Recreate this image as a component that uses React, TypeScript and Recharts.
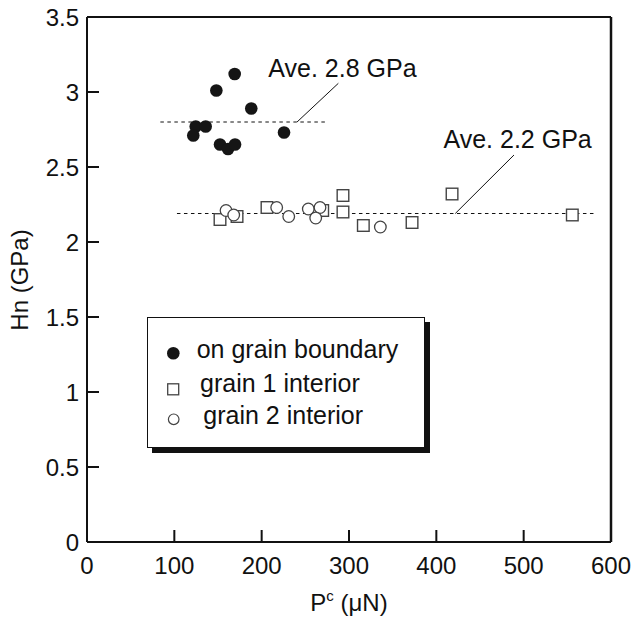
import React from 'react';
import { ScatterChart, Scatter, XAxis, YAxis, ReferenceLine, ReferenceDot } from 'recharts';

// Data (P^c in µN, Hn in GPa)
const boundaryX = [169.1, 148.1, 188.1, 124.5, 135.9, 121.7, 152.3, 161.5, 169.5, 225.6];
const boundaryY = [3.12, 3.01, 2.89, 2.77, 2.77, 2.71, 2.65, 2.62, 2.65, 2.73];
const grain1X = [152.3, 171.8, 206.1, 269.9, 293.1, 293.1, 316.4, 372.2, 418.0, 555.7];
const grain1Y = [2.15, 2.17, 2.23, 2.21, 2.31, 2.20, 2.11, 2.13, 2.32, 2.18];
const grain2X = [159.2, 168.0, 217.2, 231.0, 253.4, 266.8, 261.9, 335.9];
const grain2Y = [2.21, 2.18, 2.23, 2.17, 2.22, 2.23, 2.16, 2.10];

const xTicks = [0, 100, 200, 300, 400, 500, 600];
const yTicks = [0, 0.5, 1, 1.5, 2, 2.5, 3, 3.5];
const legendLabels = ['on grain boundary', 'grain 1 interior', 'grain 2 interior'];

const ave1 = 2.8;
const ave2 = 2.19;

const zip = (xs: number[], ys: number[]) => xs.map((x, i) => ({ x, y: ys[i] }));
const boundaryData = zip(boundaryX, boundaryY);
const grain1Data = zip(grain1X, grain1Y);
const grain2Data = zip(grain2X, grain2Y);

const FONT = '"Liberation Sans", Arial, Helvetica, sans-serif';

const FilledCircle = (p: any) => <circle cx={p.cx} cy={p.cy} r={6.3} fill="#151515" />;
const OpenSquare = (p: any) => (
  <rect x={p.cx - 5.8} y={p.cy - 5.8} width={11.6} height={11.6} fill="#fff" stroke="#444" strokeWidth={1.4} />
);
const OpenCircle = (p: any) => <circle cx={p.cx} cy={p.cy} r={5.8} fill="#fff" stroke="#444" strokeWidth={1.3} />;

const textShape = (label: string) => (p: any) => (
  <text x={p.cx} y={p.cy} fontFamily={FONT} fontSize={25} fill="#111">
    {label}
  </text>
);

export default function App() {
  return (
    <div style={{ position: 'absolute', left: 0, top: 0, width: 635, height: 620, background: '#fff' }}>
      <ScatterChart width={635} height={620} margin={{ top: 17, right: 24, bottom: 38, left: 27 }}>
        <XAxis
          type="number"
          dataKey="x"
          domain={[0, 600]}
          ticks={xTicks}
          interval={0}
          height={40}
          tickSize={-12}
          tickMargin={27}
          axisLine={{ stroke: '#111', strokeWidth: 2 }}
          tickLine={{ stroke: '#111', strokeWidth: 2 }}
          tick={{ fill: '#111', fontSize: 24, fontFamily: FONT }}
          allowDataOverflow
          label={{
            content: () => (
              <text x={349} y={611} textAnchor="middle" fontFamily={FONT} fontSize={24} fill="#111">
                P<tspan fontSize={15} dy={-10}>c</tspan>
                <tspan dy={10}> (μN)</tspan>
              </text>
            ),
          }}
        />
        <YAxis
          type="number"
          dataKey="y"
          domain={[0, 3.5]}
          ticks={yTicks}
          interval={0}
          width={60}
          tickSize={-12}
          tickMargin={20}
          axisLine={{ stroke: '#111', strokeWidth: 2 }}
          tickLine={{ stroke: '#111', strokeWidth: 2 }}
          tick={{ fill: '#111', fontSize: 24, fontFamily: FONT }}
          allowDataOverflow
          label={{
            content: () => (
              <text
                transform="translate(28,280) rotate(-90)"
                textAnchor="middle"
                fontFamily={FONT}
                fontSize={24}
                fill="#111"
              >
                Hn (GPa)
              </text>
            ),
          }}
        />
        <ReferenceLine y={3.5} stroke="#111" strokeWidth={2} />
        <ReferenceLine x={600} stroke="#111" strokeWidth={2.5} />
        <ReferenceLine
          segment={[{ x: 84, y: ave1 }, { x: 276, y: ave1 }]}
          stroke="#111"
          strokeWidth={1}
          strokeDasharray="3.5 3.5"
        />
        <ReferenceLine
          segment={[{ x: 103, y: ave2 }, { x: 580, y: ave2 }]}
          stroke="#111"
          strokeWidth={1}
          strokeDasharray="3.5 3.5"
        />
        <ReferenceLine segment={[{ x: 240.5, y: ave1 }, { x: 287.8, y: 3.058 }]} stroke="#111" strokeWidth={1} />
        <ReferenceLine segment={[{ x: 421.7, y: ave2 }, { x: 488.9, y: 2.58 }]} stroke="#111" strokeWidth={1} />
        <ReferenceDot x={207.6} y={3.102} r={0} shape={textShape('Ave. 2.8 GPa')} />
        <ReferenceDot x={408.2} y={2.627} r={0} shape={textShape('Ave. 2.2 GPa')} />
        <Scatter data={grain1Data} shape={OpenSquare} isAnimationActive={false} />
        <Scatter data={grain2Data} shape={OpenCircle} isAnimationActive={false} />
        <Scatter data={boundaryData} shape={FilledCircle} isAnimationActive={false} />
      </ScatterChart>
      <div
        style={{
          position: 'absolute',
          left: 147,
          top: 317,
          width: 278,
          height: 131,
          border: '1px solid #111',
          boxShadow: '5px 5px 0 #111',
          background: '#fff',
          boxSizing: 'border-box',
        }}
      >
        <svg width={278} height={131} style={{ position: 'absolute', left: -1, top: -1 }}>
          <circle cx={26.3} cy={36.3} r={6.3} fill="#151515" />
          <rect x={20.7} y={66.8} width={11} height={11} fill="#fff" stroke="#444" strokeWidth={1.3} />
          <circle cx={26.7} cy={102.3} r={5.3} fill="#fff" stroke="#444" strokeWidth={1.2} />
          <text x={49.7} y={40.5} fontFamily={FONT} fontSize={25} fill="#111">{legendLabels[0]}</text>
          <text x={53} y={74.5} fontFamily={FONT} fontSize={25} fill="#111">{legendLabels[1]}</text>
          <text x={56.3} y={106.5} fontFamily={FONT} fontSize={25} fill="#111">{legendLabels[2]}</text>
        </svg>
      </div>
    </div>
  );
}
